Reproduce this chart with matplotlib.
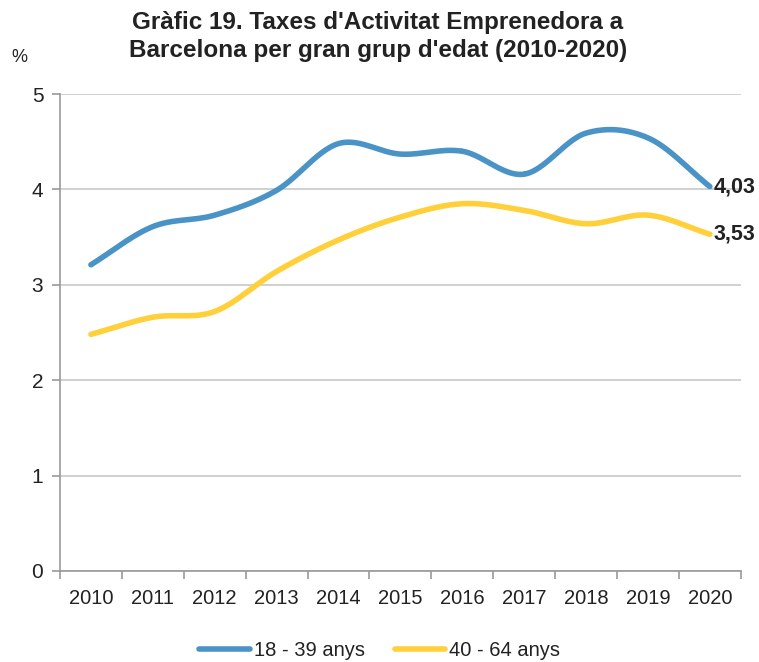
import numpy as np
import matplotlib.pyplot as plt

plt.rcParams['font.family'] = ['Liberation Sans', 'DejaVu Sans']

years = ['2010', '2011', '2012', '2013', '2014', '2015', '2016', '2017', '2018', '2019', '2020']
young = [3.21, 3.61, 3.73, 3.99, 4.48, 4.37, 4.40, 4.16, 4.59, 4.54, 4.03]
older = [2.48, 2.66, 2.72, 3.14, 3.47, 3.71, 3.85, 3.78, 3.64, 3.73, 3.53]
labels = ['18 - 39 anys', '40 - 64 anys']
colors = ['#4A93C6', '#FFD03A']


# Excel-style smoothed line (Catmull-Rom through the points)
def smooth(x, y, n=30):
    x = np.asarray(x, float)
    y = np.asarray(y, float)
    px = np.concatenate([[2 * x[0] - x[1]], x, [2 * x[-1] - x[-2]]])
    py = np.concatenate([[2 * y[0] - y[1]], y, [2 * y[-1] - y[-2]]])
    xs, ys = [], []
    t = np.linspace(0, 1, n)
    for i in range(1, len(px) - 2):
        for p, out in ((px, xs), (py, ys)):
            p0, p1, p2, p3 = p[i - 1], p[i], p[i + 1], p[i + 2]
            out.extend(0.5 * ((2 * p1) + (-p0 + p2) * t
                              + (2 * p0 - 5 * p1 + 4 * p2 - p3) * t ** 2
                              + (-p0 + 3 * p1 - 3 * p2 + p3) * t ** 3))
    return xs, ys


fig = plt.figure(figsize=(7.59, 6.62), dpi=100)
ax = fig.add_axes([0.079, 0.1375, 0.897, 0.7205])

x = np.arange(len(years))
for vals, lab, col in zip([young, older], labels, colors):
    sx, sy = smooth(x, vals)
    ax.plot(sx, sy, color=col, lw=4, solid_capstyle='round', label=lab, zorder=3)
    ax.text(x[-1] + 0.06, vals[-1], f"{vals[-1]:.2f}".replace('.', ','),
            fontsize=15.5, fontweight='bold', va='center', ha='left', color='#222222')

ax.set_xlim(-0.5, len(years) - 0.5)
ax.set_ylim(0, 5)
ax.set_yticks(range(6))
ax.yaxis.grid(True, color='#C8C8C8', lw=1.2)
ax.set_axisbelow(True)

ax.set_xticks(x)
ax.set_xticklabels(years)
ax.set_xticks(np.arange(-0.5, len(years)), minor=True)
ax.tick_params(axis='x', which='major', length=0, pad=13, labelsize=14.5, labelcolor='#222222')
ax.tick_params(axis='x', which='minor', length=6, color='#999999', width=1.2)
ax.tick_params(axis='y', length=6, color='#999999', width=1.2, labelsize=15, pad=6,
               labelcolor='#222222')

for s in ['top', 'right']:
    ax.spines[s].set_visible(False)
for s in ['left', 'bottom']:
    ax.spines[s].set_color('#999999')
    ax.spines[s].set_linewidth(1.2)

fig.text(0.498, 0.945, "Gràfic 19. Taxes d'Activitat Emprenedora a\nBarcelona per gran grup d'edat (2010-2020)",
         ha='center', va='center', fontsize=17.5, fontweight='bold', linespacing=1.3, color='#222222')
fig.text(0.015, 0.913, '%', fontsize=13, ha='left', va='center', color='#222222')

ax.legend(loc='center', bbox_to_anchor=(0.47, -0.166), ncol=2, frameon=False,
          fontsize=14.5, handlelength=2.5, columnspacing=1.5, handletextpad=0.2,
          labelcolor='#222222')

fig.savefig('out.png', dpi=100)
